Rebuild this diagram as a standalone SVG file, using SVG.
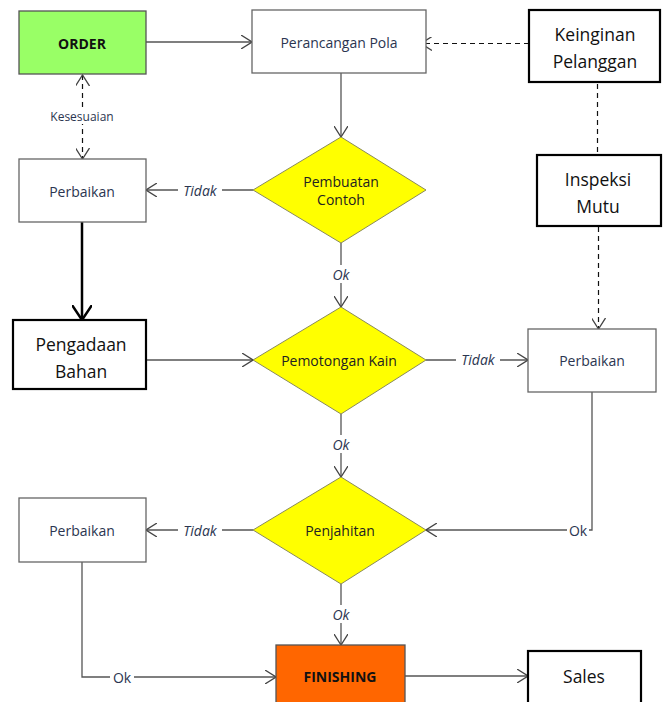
<svg xmlns="http://www.w3.org/2000/svg" width="667" height="702" viewBox="0 0 667 702">
<style>
.box{fill:#fff;stroke:#666;stroke-width:1.3}
.tbox{fill:#fff;stroke:#000;stroke-width:2.2}
.dia{fill:#ffff00;stroke:#8a8a5a;stroke-width:1}
.t{font-family:"Open Sans","Liberation Sans",sans-serif;font-size:14px;fill:#2b3550;text-anchor:middle;dominant-baseline:central}
.tb{font-family:"Open Sans","Liberation Sans",sans-serif;font-size:17.5px;fill:#111;text-anchor:middle;dominant-baseline:central}
.bold{font-weight:bold;fill:#111}
.lbl{font-family:"Open Sans","Liberation Sans",sans-serif;font-size:14px;fill:#2b3550;text-anchor:middle;dominant-baseline:central}
.it{font-style:italic}
.e{fill:none;stroke:#555;stroke-width:1.3}
.d{fill:none;stroke:#111;stroke-width:1.2;stroke-dasharray:5,4}
.k{fill:none;stroke:#000;stroke-width:2.5}
</style>
<defs>
<marker id="a" markerUnits="userSpaceOnUse" viewBox="0 0 12 14" markerWidth="12" markerHeight="14" refX="11" refY="7" orient="auto-start-reverse"><path d="M0,0 L11,7 L0,14" fill="none" stroke="#444" stroke-width="1.3"/></marker>
<marker id="ak" markerUnits="userSpaceOnUse" viewBox="0 0 16 20" markerWidth="16" markerHeight="20" refX="15" refY="10" orient="auto"><path d="M0,0 L15,10 L0,20" fill="none" stroke="#000" stroke-width="2.5"/></marker>
</defs>
<g id="connectors">
<path class="e" d="M146,42 H252" marker-end="url(#a)"/>
<path class="d" d="M529,43.5 H421" marker-end="url(#a)"/>
<path class="d" d="M597.5,84 V155"/>
<path class="d" d="M598.5,227 V329" marker-end="url(#a)"/>
<path class="e" d="M341,73 V137" marker-end="url(#a)"/>
<path class="d" d="M82.5,75 V159" marker-start="url(#a)" marker-end="url(#a)"/>
<rect x="44" y="108" width="76" height="16" fill="#fff"/>
<text class="lbl" x="82" y="116" style="font-size:12px">Kesesuaian</text>
<path class="e" d="M253,190 H146" marker-end="url(#a)"/>
<rect x="178" y="181" width="44" height="18" fill="#fff"/>
<text class="lbl it" x="200" y="190">Tidak</text>
<path class="k" d="M82,222 V320" marker-end="url(#ak)"/>
<path class="e" d="M341,243 V307" marker-end="url(#a)"/>
<rect x="329" y="265" width="24" height="18" fill="#fff"/>
<text class="lbl it" x="341" y="274">Ok</text>
<path class="e" d="M146,360 H253" marker-end="url(#a)"/>
<path class="e" d="M426,360 H528" marker-end="url(#a)"/>
<rect x="456" y="351" width="44" height="18" fill="#fff"/>
<text class="lbl it" x="478" y="359">Tidak</text>
<path class="e" d="M341,414 V477" marker-end="url(#a)"/>
<rect x="329" y="435" width="24" height="18" fill="#fff"/>
<text class="lbl it" x="341" y="444">Ok</text>
<path class="e" d="M592,392 V530 H426" marker-end="url(#a)"/>
<rect x="567" y="521" width="22" height="18" fill="#fff"/>
<text class="lbl" x="578" y="530">Ok</text>
<path class="e" d="M253,530 H146" marker-end="url(#a)"/>
<rect x="178" y="521" width="44" height="18" fill="#fff"/>
<text class="lbl it" x="200" y="530">Tidak</text>
<path class="e" d="M341,584 V645" marker-end="url(#a)"/>
<rect x="329" y="605" width="24" height="18" fill="#fff"/>
<text class="lbl it" x="341" y="614">Ok</text>
<path class="e" d="M82,562 V677 H276" marker-end="url(#a)"/>
<rect x="110" y="668" width="24" height="18" fill="#fff"/>
<text class="lbl" x="122" y="677">Ok</text>
<path class="e" d="M405,676 H528" marker-end="url(#a)"/>
</g>
<g id="order"><rect x="19" y="11" width="127" height="63" fill="#99ff66" stroke="#555" stroke-width="1.3"/><text class="t bold" x="82" y="43">ORDER</text></g>
<g id="perancangan"><rect class="box" x="252" y="10" width="174" height="63"/><text class="t" x="339" y="42">Perancangan Pola</text></g>
<g id="keinginan"><rect class="tbox" x="529" y="10" width="131" height="72"/><text class="tb" x="595" y="34">Keinginan</text><text class="tb" x="595" y="61">Pelanggan</text></g>
<g id="inspeksi"><rect class="tbox" x="537" y="155" width="124" height="71"/><text class="tb" x="598" y="179">Inspeksi</text><text class="tb" x="598" y="206">Mutu</text></g>
<g id="perbaikan1"><rect class="box" x="19" y="159" width="127" height="63"/><text class="t" x="82" y="191">Perbaikan</text></g>
<g id="pembuatan"><polygon class="dia" points="341,137 426,190 341,243 253,190"/><text class="t" x="341" y="181" style="fill:#222">Pembuatan</text><text class="t" x="341" y="199" style="fill:#222">Contoh</text></g>
<g id="pengadaan"><rect class="tbox" x="13" y="320" width="133" height="69"/><text class="tb" x="81" y="344">Pengadaan</text><text class="tb" x="81" y="371">Bahan</text></g>
<g id="pemotongan"><polygon class="dia" points="341,307 426,360 341,414 253,360"/><text class="t" x="339" y="360" style="fill:#222">Pemotongan Kain</text></g>
<g id="perbaikan2"><rect class="box" x="528" y="329" width="128" height="63"/><text class="t" x="592" y="360">Perbaikan</text></g>
<g id="penjahitan"><polygon class="dia" points="341,477 426,530 341,584 253,530"/><text class="t" x="340" y="530" style="fill:#222">Penjahitan</text></g>
<g id="perbaikan3"><rect class="box" x="19" y="498" width="127" height="64"/><text class="t" x="82" y="530">Perbaikan</text></g>
<g id="finishing"><rect x="276" y="645" width="129" height="62" fill="#ff6600" stroke="#555" stroke-width="1.3"/><text class="t bold" x="340" y="676">FINISHING</text></g>
<g id="sales"><rect class="tbox" x="528" y="651" width="113" height="55"/><text class="tb" x="584" y="676">Sales</text></g>
</svg>
